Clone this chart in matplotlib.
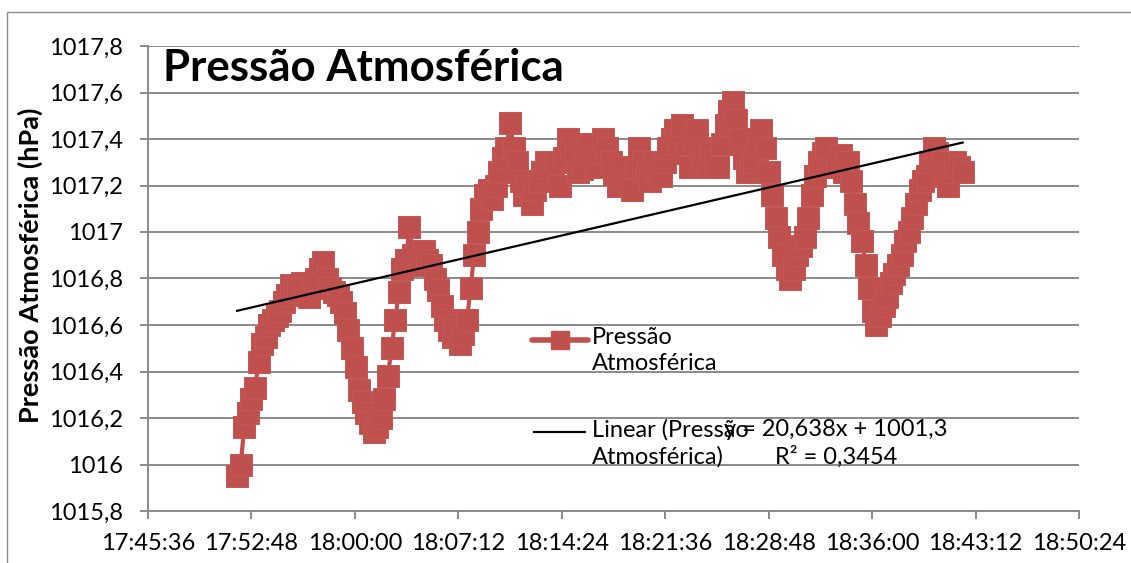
import matplotlib
matplotlib.use("Agg")
import matplotlib.pyplot as plt
from matplotlib.lines import Line2D
from matplotlib.patches import Rectangle
from matplotlib.ticker import FuncFormatter, MultipleLocator
import numpy as np

plt.rcParams["font.family"] = ["Lato", "DejaVu Sans"]

# pressure readings, one every 15 s starting at 17:51:48
START_TIME = "17:51:48"
STEP_S = 15
pressure = [
    1015.95, 1016.00, 1016.16, 1016.22, 1016.28, 1016.33, 1016.44, 1016.52,
    1016.55, 1016.60, 1016.62, 1016.64, 1016.66, 1016.70, 1016.73, 1016.77,
    1016.76, 1016.74, 1016.78, 1016.76, 1016.72, 1016.76, 1016.80, 1016.84,
    1016.87, 1016.80, 1016.76, 1016.74, 1016.73, 1016.70, 1016.65, 1016.58,
    1016.50, 1016.42, 1016.32, 1016.27, 1016.22, 1016.18, 1016.14, 1016.16,
    1016.20, 1016.28, 1016.38, 1016.50, 1016.62, 1016.74, 1016.84, 1016.88,
    1017.02, 1016.90, 1016.88, 1016.86, 1016.92, 1016.88, 1016.86, 1016.80,
    1016.75, 1016.68, 1016.62, 1016.58, 1016.55, 1016.60, 1016.52, 1016.56,
    1016.62, 1016.76, 1016.90, 1017.00, 1017.10, 1017.16, 1017.18, 1017.14,
    1017.20, 1017.26, 1017.32, 1017.36, 1017.47, 1017.36, 1017.30, 1017.22,
    1017.16, 1017.20, 1017.12, 1017.18, 1017.22, 1017.26, 1017.30, 1017.28,
    1017.24, 1017.30, 1017.20, 1017.32, 1017.40, 1017.36, 1017.32, 1017.26,
    1017.27, 1017.34, 1017.38, 1017.32, 1017.28, 1017.34, 1017.40, 1017.36,
    1017.30, 1017.25, 1017.20, 1017.24, 1017.28, 1017.22, 1017.18, 1017.28,
    1017.36, 1017.30, 1017.25, 1017.22, 1017.30, 1017.26, 1017.24, 1017.30,
    1017.36, 1017.40, 1017.44, 1017.38, 1017.46, 1017.34, 1017.28, 1017.38,
    1017.44, 1017.36, 1017.30, 1017.28, 1017.35, 1017.30, 1017.28, 1017.38,
    1017.46, 1017.52, 1017.56, 1017.48, 1017.40, 1017.32, 1017.26, 1017.28,
    1017.30, 1017.38, 1017.44, 1017.36, 1017.26, 1017.16, 1017.06, 1016.98,
    1016.90, 1016.84, 1016.80, 1016.84, 1016.90, 1016.94, 1016.98, 1017.06,
    1017.16, 1017.24, 1017.30, 1017.34, 1017.36, 1017.32, 1017.28, 1017.30,
    1017.33, 1017.26, 1017.30, 1017.22, 1017.12, 1017.04, 1016.96, 1016.86,
    1016.76, 1016.66, 1016.60, 1016.64, 1016.68, 1016.72, 1016.78, 1016.82,
    1016.86, 1016.90, 1016.96, 1017.00, 1017.06, 1017.12, 1017.18, 1017.22,
    1017.24, 1017.30, 1017.36, 1017.34, 1017.30, 1017.24, 1017.20, 1017.26,
    1017.30, 1017.28, 1017.26,
]

# linear trend reported by the spreadsheet (x in fractions of a day)
trend_slope = 20.638
trend_intercept = 1001.3
r_squared = 0.3454

x_ticks = ["17:45:36", "17:52:48", "18:00:00", "18:07:12", "18:14:24",
           "18:21:36", "18:28:48", "18:36:00", "18:43:12", "18:50:24"]


def to_days(hms):
    h, m, s = (int(p) for p in hms.split(":"))
    return (h * 3600 + m * 60 + s) / 86400.0


def fmt_time(x, pos=None):
    secs = int(round(x * 86400))
    return f"{secs // 3600:02d}:{secs % 3600 // 60:02d}:{secs % 60:02d}"


def fmt_comma(v, pos=None):
    s = f"{v:.1f}".replace(".", ",")
    return s[:-2] if s.endswith(",0") else s


t0 = to_days(START_TIME)
t = t0 + np.arange(len(pressure)) * STEP_S / 86400.0
trend = trend_slope * t + trend_intercept

RED = "#C0504D"
GRID = "#8a8a8a"

fig = plt.figure(figsize=(11.31, 5.63), dpi=100)
# chart area frame (only the top and left edges fall inside the image)
fig.patches.append(Rectangle((7 / 1131, -0.1), 1.2, 1 - 12 / 563 + 0.1,
                             transform=fig.transFigure, fill=False,
                             edgecolor="#8c8c8c", linewidth=1.0))
ax = fig.add_axes([148 / 1131, 1 - 511 / 563, 931 / 1131, 465 / 563])

ax.plot(t, pressure, color=RED, linewidth=3, marker="s", markersize=15.5,
        markerfacecolor=RED, markeredgecolor="#c35855", markeredgewidth=0.7,
        zorder=3)
ax.plot(t, trend, color="black", linewidth=1.6, zorder=4)

ax.set_xlim(to_days(x_ticks[0]), to_days(x_ticks[-1]))
ax.set_ylim(1015.8, 1017.8)
ax.set_xticks([to_days(s) for s in x_ticks])
ax.xaxis.set_major_formatter(FuncFormatter(fmt_time))
ax.yaxis.set_major_locator(MultipleLocator(0.2))
ax.yaxis.set_major_formatter(FuncFormatter(fmt_comma))

ax.grid(axis="y", color=GRID, linewidth=1.4)
ax.set_axisbelow(True)
for side in ("top", "right"):
    ax.spines[side].set_visible(False)
for side in ("left", "bottom"):
    ax.spines[side].set_color(GRID)
    ax.spines[side].set_linewidth(1.4)
ax.tick_params(axis="y", length=6, width=1.4, color=GRID, pad=12,
               labelsize=17)
ax.tick_params(axis="x", length=6, width=1.4, color=GRID, pad=10,
               labelsize=17)

fig.text(163 / 1131, 1 - 68 / 563, "Pressão Atmosférica", fontsize=31.5,
         fontweight="bold", va="center", ha="left")
fig.text(30 / 1131, 1 - 265 / 563, "Pressão Atmosférica (hPa)", fontsize=19.5,
         fontweight="bold", rotation=90, va="center", ha="center")


def ax_xy(px, py):
    # pixel position inside the figure -> axes fraction
    return ((px - 148) / 931, (511 - py) / 465)


# legend entries, first line of each label aligned with its key
tr = ax.transAxes
x0, y0 = ax_xy(532, 340)
x1, _ = ax_xy(588, 340)
xm, _ = ax_xy(560, 340)
ax.add_line(Line2D([x0, x1], [y0, y0], transform=tr, color=RED,
                   linewidth=4, solid_capstyle="round"))
ax.add_line(Line2D([xm], [y0], transform=tr, color=RED, marker="s",
                   markersize=13, linestyle="none"))
lx, ly = ax_xy(592, 327)
ax.text(lx, ly, "Pressão\nAtmosférica", transform=tr, fontsize=17,
        va="top", ha="left", linespacing=1.3)

x0b, y0b = ax_xy(534, 432)
x1b, _ = ax_xy(585, 432)
ax.add_line(Line2D([x0b, x1b], [y0b, y0b], transform=tr, color="black",
                   linewidth=1.6))
lx2, ly2 = ax_xy(592, 419)
ax.text(lx2, ly2, "Linear (Pressão\nAtmosférica)", transform=tr,
        fontsize=17, va="top", ha="left", linespacing=1.3)

ex, ey = ax_xy(836, 419)
eq = (f"y = {trend_slope:.3f}x + {trend_intercept:.1f}".replace(".", ",")
      + "\n" + f"R² = {r_squared:.4f}".replace(".", ","))
ax.text(ex, ey, eq, transform=tr, fontsize=17, va="top", ha="center",
        linespacing=1.3)

fig.savefig("out.png", dpi=100)
